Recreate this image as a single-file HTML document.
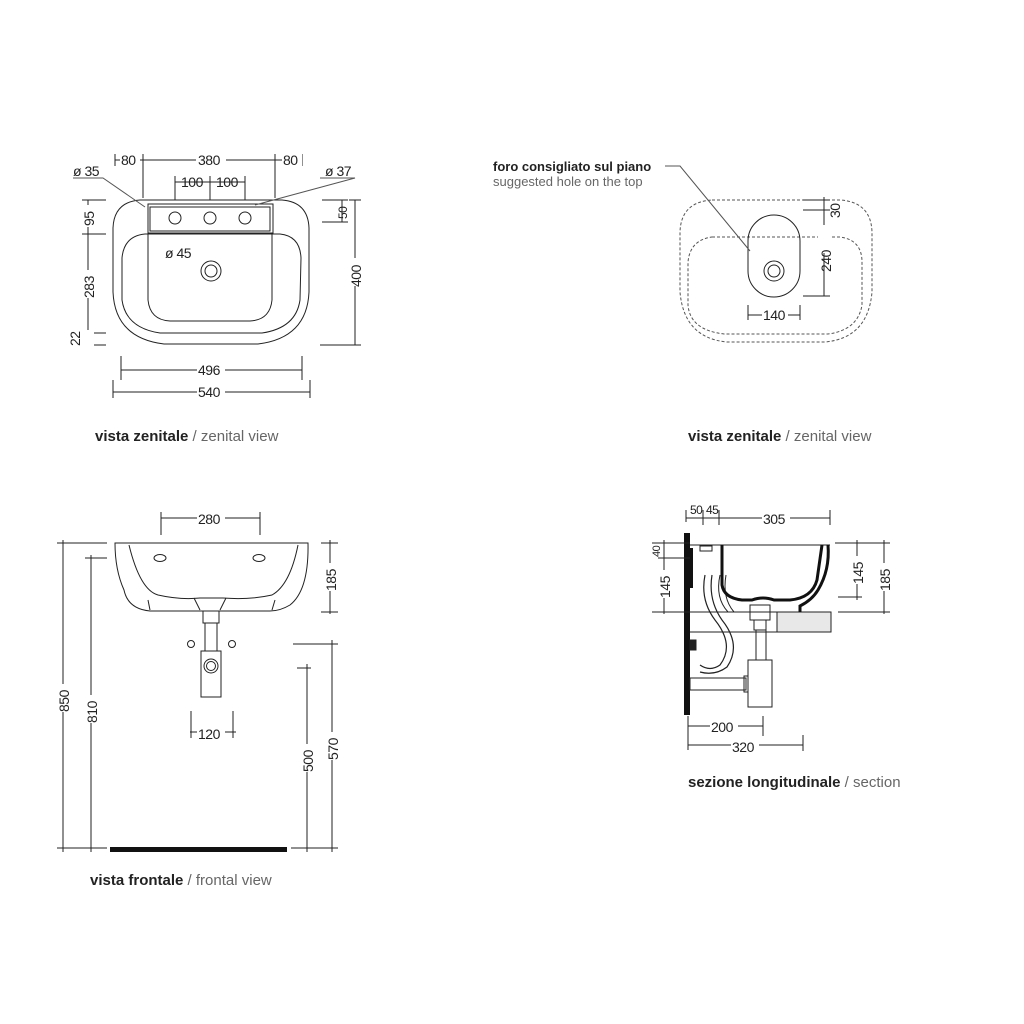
<!DOCTYPE html>
<html><head><meta charset="utf-8"><style>
html,body{margin:0;padding:0;background:#fff;width:1024px;height:1024px;overflow:hidden}
svg{display:block}
text{font-family:"Liberation Sans",sans-serif;fill:#222}
.d{font-size:14px;letter-spacing:-0.5px}
.cap{font-size:15px}
.b{font-weight:bold;fill:#222}
.g{fill:#666}
</style></head><body>
<svg width="1024" height="1024" viewBox="0 0 1024 1024" xmlns="http://www.w3.org/2000/svg">
<g stroke="#222" stroke-width="1" fill="none">
<!-- TOP LEFT basin -->
<path d="M140 200 L282 200 Q308 202 309 228 L309 292 Q307 338 258 344 L164 344 Q115 338 113 292 L113 228 Q114 202 140 200 Z"/>
<path d="M145 234 L280 234 Q300 236 301 258 L300 300 Q296 328 262 333 L160 333 Q126 328 122 300 L122 258 Q124 236 145 234 Z"/>
<path d="M148 204 L273 204 L273 233 L148 233 Z"/>
<path d="M150 207 L270 207 L270 231 L150 231 Z"/>
<path d="M148 233 L148 300 Q150 320 170 321 L250 321 Q270 320 272 300 L272 233"/>
<circle cx="175" cy="218" r="6"/><circle cx="210" cy="218" r="6"/><circle cx="245" cy="218" r="6"/>
<circle cx="211" cy="271" r="10"/><circle cx="211" cy="271" r="6"/>
<!-- dims -->
<path d="M115 160 H302 M115 154 V166 M143 154 V198 M275 154 V198 M302 154 V166"/>
<path d="M175 182 H245 M175 176 V200 M210 176 V200 M245 176 V200"/>
<path d="M73 178 H103 L145 207 M320 178 H355 L255 205" stroke="#555"/>
<path d="M88 200 V345 M82 200 H106 M82 234 H106 M82 333 H106 M82 345 H106"/>
<path d="M342 200 V222 M322 200 H348 M322 222 H348 M355 200 V345 M320 345 H361 M349 200 H361"/>
<path d="M121 370 H302 M121 356 V380 M302 356 V380 M113 392 H310 M113 380 V398 M310 380 V398"/>
</g>
<g class="d">
<rect x="120" y="152" width="20" height="14" fill="#fff"/><text x="121" y="165">80</text>
<rect x="196" y="152" width="30" height="14" fill="#fff"/><text x="198" y="165">380</text>
<rect x="282" y="152" width="20" height="14" fill="#fff"/><text x="283" y="165">80</text>
<text x="181" y="187">100</text><text x="216" y="187">100</text>
<text x="73" y="176">ø 35</text><text x="325" y="176">ø 37</text>
<text x="165" y="258">ø 45</text>
<g fill="#222">
<rect x="82" y="205" width="12" height="22" fill="#fff"/><text transform="translate(94,226) rotate(-90)">95</text>
<rect x="82" y="270" width="12" height="28" fill="#fff"/><text transform="translate(94,298) rotate(-90)">283</text>
<rect x="82" y="330" width="12" height="16" fill="#fff"/><text transform="translate(80,346) rotate(-90)">22</text>
<text transform="translate(347,219) rotate(-90)" style="font-size:12px">50</text>
<rect x="349" y="258" width="12" height="28" fill="#fff"/><text transform="translate(361,287) rotate(-90)">400</text>
</g>
<rect x="197" y="362" width="28" height="14" fill="#fff"/><text x="198" y="375">496</text>
<rect x="197" y="384" width="28" height="14" fill="#fff"/><text x="198" y="397">540</text>
</g>
<text x="95" y="441" class="cap"><tspan class="b">vista zenitale</tspan><tspan class="g"> / zenital view</tspan></text>

<!-- TOP RIGHT -->
<g stroke="#555" stroke-width="1" fill="none" stroke-dasharray="3,2">
<path d="M712 200 L840 200 Q871 202 872 232 L872 292 Q868 338 825 342 L727 342 Q684 338 680 292 L680 232 Q681 202 712 200 Z"/>
<path d="M712 237 L840 237 Q862 240 862 262 L862 305 Q858 330 828 334 L724 334 Q690 330 688 305 L688 262 Q690 240 712 237 Z"/>
</g>
<g stroke="#222" fill="none">
<rect x="748" y="215" width="52" height="82" rx="26"/>
<circle cx="774" cy="271" r="10"/><circle cx="774" cy="271" r="6"/>
<path d="M665 166 H680 L750 251" stroke="#555"/>
<path d="M824 197 V296 M803 200 H830 M803 210 H830 M803 296 H830"/>
<path d="M748 315 H800 M748 305 V320 M800 305 V320"/>
</g>
<g class="d">
<rect x="818" y="225" width="14" height="28" fill="#fff"/><text transform="translate(831,272) rotate(-90)">240</text>
<text transform="translate(840,218) rotate(-90)">30</text>
<rect x="762" y="308" width="26" height="14" fill="#fff"/><text x="763" y="320">140</text>
</g>
<text x="493" y="171" style="font-size:13px" class="b">foro consigliato sul piano</text>
<text x="493" y="186" style="font-size:13px" class="g">suggested hole on the top</text>
<text x="688" y="441" class="cap"><tspan class="b">vista zenitale</tspan><tspan class="g"> / zenital view</tspan></text>

<!-- BOTTOM LEFT -->
<g stroke="#222" fill="none">
<path d="M115 543 H308 Q309 590 290 605 Q280 611 270 611 H150 Q128 609 124 590 Q115 570 115 543 Z"/>
<path d="M129 545 Q140 590 158 595 Q180 600 200 598 L223 598 Q250 600 272 595 Q290 585 298 545"/>
<path d="M148 600 L150 610 M275 600 L272 610 M194 598 L200 610 M226 598 L220 610"/>
<ellipse cx="160" cy="558" rx="6" ry="3.5"/><ellipse cx="259" cy="558" rx="6" ry="3.5"/>
<rect x="203" y="611" width="16" height="12"/>
<rect x="205" y="623" width="12" height="28"/>
<rect x="201" y="651" width="20" height="46"/>
<circle cx="211" cy="666" r="7"/><circle cx="211" cy="666" r="4.5"/>
<circle cx="191" cy="644" r="3.5"/><circle cx="232" cy="644" r="3.5"/>
<path d="M161 518 H260 M161 512 V535 M260 512 V535"/>
<path d="M190 732 H236 M191 711 V738 M233 711 V738"/>
<path d="M63 540 V852 M57 543 H107 M91 555 V852 M85 558 H107 M57 848 H107"/>
<path d="M330 540 V614 M321 543 H338 M321 612 H338"/>
<path d="M293 644 H338 M332 640 V852 M297 668 H311 M307 664 V852 M291 848 H338"/>
</g>
<rect x="110" y="847" width="177" height="5" fill="#111"/>
<g class="d">
<rect x="197" y="511" width="28" height="14" fill="#fff"/><text x="198" y="524">280</text>
<rect x="197" y="726" width="28" height="14" fill="#fff"/><text x="198" y="739">120</text>
<rect x="57" y="684" width="12" height="28" fill="#fff"/><text transform="translate(69,712) rotate(-90)">850</text>
<rect x="85" y="695" width="12" height="28" fill="#fff"/><text transform="translate(97,723) rotate(-90)">810</text>
<rect x="324" y="563" width="12" height="28" fill="#fff"/><text transform="translate(336,591) rotate(-90)">185</text>
<rect x="301" y="744" width="12" height="28" fill="#fff"/><text transform="translate(313,772) rotate(-90)">500</text>
<rect x="326" y="732" width="12" height="28" fill="#fff"/><text transform="translate(338,760) rotate(-90)">570</text>
</g>
<text x="90" y="885" class="cap"><tspan class="b">vista frontale</tspan><tspan class="g"> / frontal view</tspan></text>

<!-- BOTTOM RIGHT -->
<rect x="684" y="533" width="6" height="182" fill="#111"/>
<rect x="690" y="548" width="3" height="40" fill="#111"/>
<g stroke="#222" fill="none">
<path d="M690 545 H830 M690 612 H831 M690 632 H777"/>
<rect x="777" y="612" width="54" height="20" fill="#e8e8e8"/>
<rect x="700" y="546" width="12" height="5"/>
<path d="M705 575 Q700 600 715 620 Q735 645 720 665 Q710 672 700 665 M712 575 Q708 600 722 620 Q742 645 727 667 Q715 676 700 672" stroke-width="1.2"/>
<path d="M720 575 Q715 598 728 612 M726 575 Q722 598 734 612"/>
<rect x="690" y="640" width="6" height="10" fill="#222"/>
<rect x="750" y="605" width="20" height="15"/>
<rect x="754" y="620" width="12" height="10"/>
<rect x="756" y="630" width="10" height="30"/>
<rect x="748" y="660" width="24" height="47"/>
<rect x="690" y="678" width="56" height="12"/>
<rect x="744" y="676" width="4" height="16"/>
<path d="M686 510 V522 M686 518 H830 M703 510 V525 M719 510 V525 M830 510 V525"/>
<path d="M652 543 H690 M658 558 H690 M664 540 V614 M652 612 H690"/>
<path d="M835 543 H890 M838 597 H862 M857 540 V600 M884 540 V614 M838 612 H890"/>
<path d="M688 726 H763 M688 716 V750 M763 716 V736 M688 745 H803 M803 735 V751"/>
</g>
<path d="M722 545 L722 585 Q724 598 742 600 L752 600 Q763 596 774 600 L790 600 Q812 598 817 580 L822 545" stroke="#111" stroke-width="3" fill="none"/>
<path d="M828 545 Q830 570 818 590 Q812 600 800 606 L800 612" stroke="#111" stroke-width="3" fill="none"/>
<g class="d">
<text x="690" y="514" style="font-size:12px">50</text><text x="706" y="514" style="font-size:12px">45</text>
<rect x="762" y="511" width="28" height="14" fill="#fff"/><text x="763" y="524">305</text>
<text transform="translate(660,557) rotate(-90)" style="font-size:11px">40</text>
<rect x="658" y="570" width="12" height="28" fill="#fff"/><text transform="translate(670,598) rotate(-90)">145</text>
<rect x="851" y="556" width="12" height="28" fill="#fff"/><text transform="translate(863,584) rotate(-90)">145</text>
<rect x="878" y="563" width="12" height="28" fill="#fff"/><text transform="translate(890,591) rotate(-90)">185</text>
<rect x="710" y="719" width="28" height="14" fill="#fff"/><text x="711" y="732">200</text>
<rect x="731" y="739" width="28" height="14" fill="#fff"/><text x="732" y="752">320</text>
</g>
<text x="688" y="787" class="cap"><tspan class="b">sezione longitudinale</tspan><tspan class="g"> / section</tspan></text>
</svg>
</body></html>
